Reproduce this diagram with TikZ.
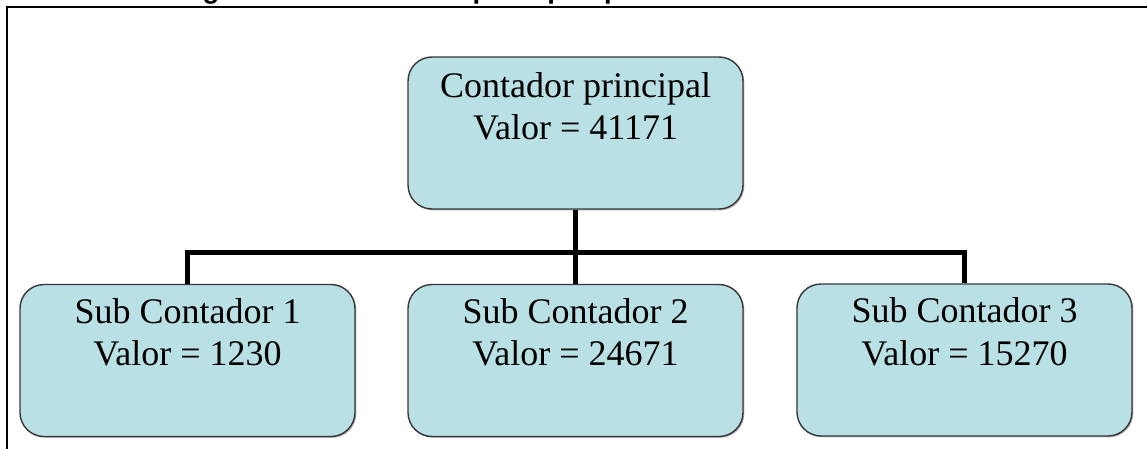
\documentclass[tikz,border=0pt]{standalone}
\usepackage{fontspec}
\setmainfont{Liberation Serif}
\newfontfamily\capfont{Liberation Sans}
\usetikzlibrary{backgrounds,shadows}
\definecolor{boxfill}{RGB}{185,224,228}
\definecolor{boxline}{RGB}{55,55,55}
\begin{document}
\begin{tikzpicture}[x=1pt,y=-1pt,
  ctrbox/.style={draw=boxline, line width=1.4pt, fill=boxfill,
    rounded corners=24pt, minimum width=335pt, minimum height=152pt,
    inner sep=0pt,
    drop shadow={shadow xshift=1.3pt, shadow yshift=-1.3pt, fill=black, opacity=0.3}},
  ctrtext/.style={align=center, inner sep=0pt, anchor=north,
    font=\fontsize{36}{42.5}\selectfont},
  wire/.style={line width=5pt, line join=miter, draw=black},
  frame/.style={line width=2.3pt, draw=black}]
\useasboundingbox (0,0) rectangle (1147,449);
\clip (0,0) rectangle (1147,449);

% caption line above the frame, only its lowest part falls on the page
\node[anchor=base west, inner sep=0pt,
  font=\capfont\bfseries\fontsize{27.5}{30}\selectfont] (caption) at (178,-1.5)
  {Figura 3-10. Contador principal que controla tres contadores};

% frame
\draw[frame] (1150,7) -- (7,7) -- (7,452);

% counters
\node[ctrbox] (main) at (575.5,133) {};
\node[ctrbox] (s1) at (187.5,360.5) {};
\node[ctrbox] (s2) at (575.5,360.5) {};
\node[ctrbox] (s3) at (964.5,360) {};

\node[ctrtext] (t0) at ([yshift=-16pt]main.north) {Contador principal\\Valor = 41171};
\node[ctrtext] (t1) at ([yshift=-14.3pt]s1.north) {Sub Contador 1\\Valor = 1230};
\node[ctrtext] (t2) at ([yshift=-14.3pt]s2.north) {Sub Contador 2\\Valor = 24671};
\node[ctrtext] (t3) at ([yshift=-14.3pt]s3.north) {Sub Contador 3\\Valor = 15270};

\coordinate (bus) at (575.5,252.5);

\begin{scope}[on background layer]
  \fill[white] (0,0) rectangle (1147,449);
  \draw[wire] (main.south) -- (s2.north);
  \draw[wire] (s1.north) -- (s1.north |- bus) -| (s3.north);
\end{scope}
\end{tikzpicture}
\end{document}
